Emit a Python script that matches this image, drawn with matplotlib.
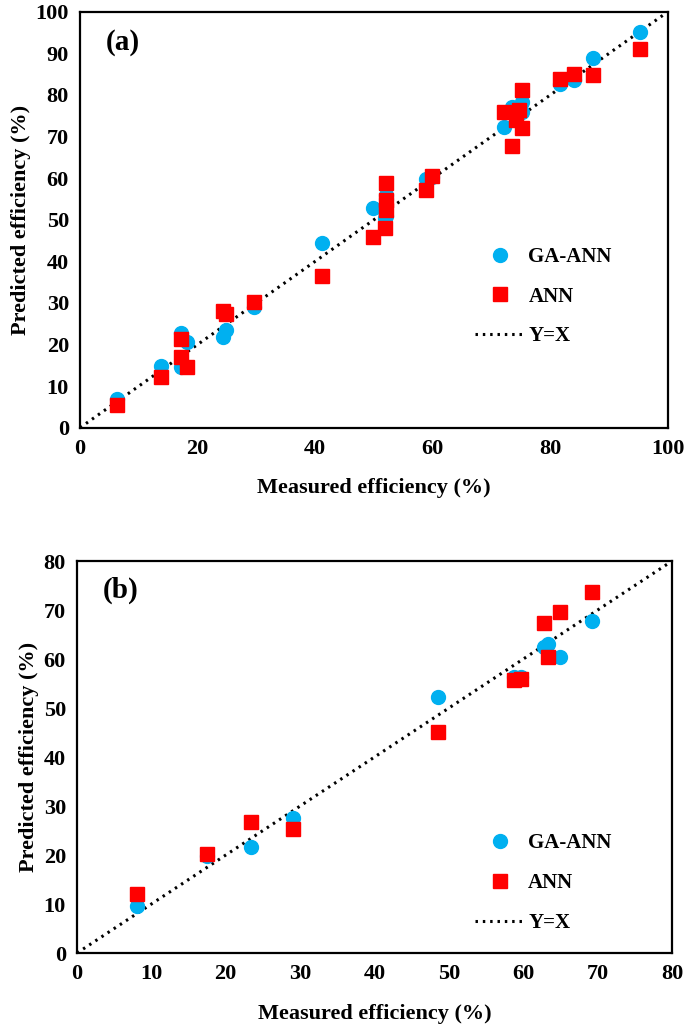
import numpy as np
import matplotlib
matplotlib.use('Agg')
import matplotlib.pyplot as plt
from matplotlib.lines import Line2D

plt.rcParams['font.family'] = ['Liberation Serif', 'DejaVu Serif']
plt.rcParams['font.weight'] = 'bold'

# panel (a) data
a_measured = [6.3, 13.8, 17.2, 17.2, 18.2, 24.4, 24.9, 29.6, 41.2, 49.9, 51.8, 52.1, 52.1, 52.1,
              58.9, 59.8, 72.1, 73.5, 74.1, 74.7, 75.1, 75.2, 81.7, 84.0, 87.2, 95.2]
a_ga_ann = [6.9, 14.9, 22.7, 14.7, 20.7, 21.8, 23.5, 29.1, 44.4, 52.8, 50.3, 55.0, 56.0, 51.0,
            59.9, 60.3, 72.2, 77.2, 75.5, 76.5, 78.4, 76.0, 82.7, 83.5, 88.8, 95.2]
a_ann = [5.5, 12.3, 21.3, 17.1, 14.5, 28.1, 27.3, 30.3, 36.5, 45.8, 48.1, 52.3, 54.7, 58.8,
         57.1, 60.5, 76.0, 67.8, 74.0, 76.4, 81.2, 72.0, 83.9, 85.0, 84.8, 91.0]

# panel (b) data
b_measured = [8.1, 17.5, 23.4, 29.0, 48.6, 58.8, 59.7, 62.8, 63.3, 64.9, 69.2]
b_ga_ann = [9.6, 19.8, 21.7, 27.5, 52.2, 56.4, 56.4, 62.5, 63.1, 60.5, 67.8]
b_ann = [12.0, 20.3, 26.7, 25.4, 45.2, 55.7, 55.9, 67.3, 60.5, 69.5, 73.7]

blue = '#00B0F0'
red = '#FF0000'
dots = (0, (0.8, 1.6))

fig = plt.figure(figsize=(6.85, 10.24), dpi=100)
ax1 = fig.add_axes([0.1168, 0.5823, 0.8584, 0.4063])
ax2 = fig.add_axes([0.1124, 0.0693, 0.8686, 0.3828])


def draw(ax, x, ga, ann, lim, step, label, leg_x, leg_y):
    ax.plot([0, lim], [0, lim], color='black', lw=2.2, linestyle=dots, zorder=1)
    ax.plot(x, ga, 'o', color=blue, ms=10, mec=blue, zorder=2)
    ax.plot(x, ann, 's', color=red, ms=9.5, mec=red, zorder=3)
    ax.set_xlim(0, lim)
    ax.set_ylim(0, lim)
    ax.set_xticks(np.arange(0, lim + 1, step))
    ax.set_yticks(np.arange(0, lim + 1, 10))
    ax.tick_params(length=0, labelsize=16, pad=8)
    for s in ax.spines.values():
        s.set_linewidth(1.6)
    ax.set_xlabel('Measured efficiency (%)', fontsize=16, fontweight='bold', labelpad=14)
    ax.set_ylabel('Predicted efficiency (%)', fontsize=16, fontweight='bold', labelpad=3)
    ax.text(0.043, 0.925, label, transform=ax.transAxes, fontsize=21, fontweight='bold',
            va='center', ha='left')
    handles = [
        Line2D([], [], marker='o', ls='none', color=blue, ms=10),
        Line2D([], [], marker='s', ls='none', color=red, ms=9.5),
        Line2D([], [], color='black', lw=2.2, linestyle=dots),
    ]
    ax.legend(handles, ['GA-ANN', 'ANN', 'Y=X'], loc='center left',
              bbox_to_anchor=(leg_x, leg_y), frameon=False, fontsize=15,
              handlelength=2.4, labelspacing=0.95, handletextpad=0.15,
              borderaxespad=0)


draw(ax1, a_measured, a_ga_ann, a_ann, 100, 20, '(a)', 0.658, 0.315)
draw(ax2, b_measured, b_ga_ann, b_ann, 80, 10, '(b)', 0.655, 0.178)

fig.savefig('out.png', dpi=100)
